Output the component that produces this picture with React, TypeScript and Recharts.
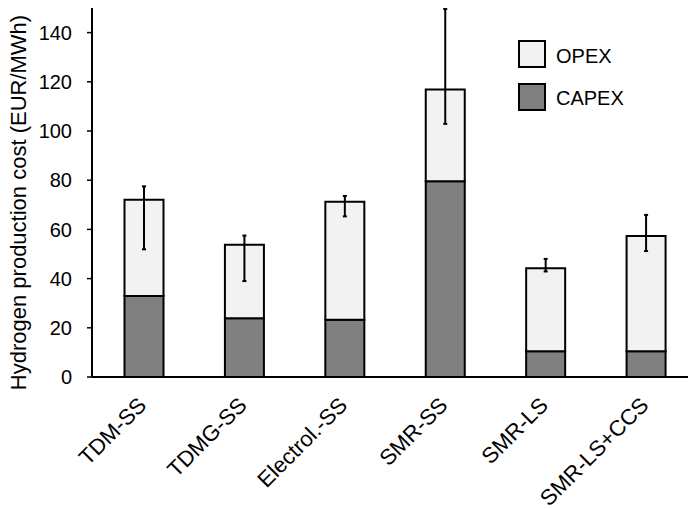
import { BarChart, Bar, XAxis, YAxis, ErrorBar, Legend, Label } from "recharts";

const categories = ["TDM-SS", "TDMG-SS", "Electrol.-SS", "SMR-SS", "SMR-LS", "SMR-LS+CCS"];
const capex = [32.9, 23.9, 23.3, 79.6, 10.5, 10.5];
const opex = [39.2, 29.9, 47.9, 37.3, 33.7, 46.8];
// error range (absolute min / max of total cost)
const errMin = [51.9, 39.0, 65.3, 102.9, 42.9, 51.2];
const errMax = [77.5, 57.5, 73.6, 149.6, 48.0, 65.9];
const yTicks = [0, 20, 40, 60, 80, 100, 120, 140];
const yLabel = "Hydrogen production cost (EUR/MWh)";

const FONT = '"Liberation Sans", Arial, sans-serif';
const OPEX_FILL = "#f2f2f2";
const CAPEX_FILL = "#808080";

const data = categories.map((name, i) => {
  const total = capex[i] + opex[i];
  return {
    name,
    capex: capex[i],
    opex: opex[i],
    err: [total - errMin[i], errMax[i] - total],
  };
});

const legendItems = [
  { name: "OPEX", color: OPEX_FILL },
  { name: "CAPEX", color: CAPEX_FILL },
];

function XTick({ x, y, payload }: any) {
  const tx = x + 4;
  const ty = y + 29.5;
  return (
    <text
      x={tx}
      y={ty}
      transform={`rotate(-45 ${tx} ${ty})`}
      textAnchor="end"
      fontSize={22}
      fontFamily={FONT}
      fill="#000"
    >
      {payload.value}
    </text>
  );
}

function LegendBox() {
  return (
    <div style={{ fontFamily: FONT, fontSize: 20, color: "#000" }}>
      {legendItems.map((it, i) => (
        <div
          key={it.name}
          style={{ display: "flex", alignItems: "center", height: 28, marginBottom: i === 0 ? 14.6 : 0 }}
        >
          <div
            style={{
              width: 28,
              height: 28,
              boxSizing: "border-box",
              border: "2px solid #000",
              background: it.color,
              marginRight: 10,
            }}
          />
          <span style={{ position: "relative", top: 2 }}>{it.name}</span>
        </div>
      ))}
    </div>
  );
}

export default function App() {
  return (
    <div style={{ position: "fixed", left: 0, top: 0, width: 688, height: 509, overflow: "hidden", background: "#fff" }}>
      <BarChart
        width={701}
        height={509}
        data={data}
        margin={{ top: 8, right: 5, left: 0, bottom: 0 }}
      >
        <XAxis
          dataKey="name"
          height={132}
          tickLine={false}
          tickSize={0}
          tickMargin={0}
          interval={0}
          padding={{ left: 1.5, right: 0 }}
          axisLine={{ stroke: "#000", strokeWidth: 2 }}
          tick={<XTick />}
        />
        <YAxis
          width={92}
          domain={[0, 150]}
          ticks={yTicks}
          allowDataOverflow
          tickSize={5}
          tickMargin={15}
          axisLine={{ stroke: "#000", strokeWidth: 2 }}
          tickLine={{ stroke: "#000", strokeWidth: 1.5 }}
          tick={{ fill: "#000", fontSize: 20, fontFamily: FONT }}
        >
          <Label
            content={({ viewBox }: any) => {
              const cx = viewBox.x + 26;
              const cy = viewBox.y + viewBox.height / 2 + 10;
              return (
                <text
                  x={cx}
                  y={cy}
                  transform={`rotate(-90 ${cx} ${cy})`}
                  textAnchor="middle"
                  fontSize={22}
                  fontFamily={FONT}
                  fill="#000"
                >
                  {yLabel}
                </text>
              );
            }}
          />
        </YAxis>
        <Legend
          layout="vertical"
          align="center"
          verticalAlign="middle"
          content={<LegendBox />}
          wrapperStyle={{ position: "absolute", left: 518, top: 40, width: 160 }}
        />
        <Bar
          dataKey="capex"
          name="CAPEX"
          stackId="a"
          fill={CAPEX_FILL}
          stroke="#000"
          strokeWidth={2}
          barSize={39}
          isAnimationActive={false}
        />
        <Bar
          dataKey="opex"
          name="OPEX"
          stackId="a"
          fill={OPEX_FILL}
          stroke="#000"
          strokeWidth={2}
          barSize={39}
          isAnimationActive={false}
        >
          <ErrorBar
            dataKey={(d: any) => (d && d.payload ? d.payload.err : d.err)}
            width={2}
            stroke="#000"
            strokeWidth={2}
            direction="y"
            isAnimationActive={false}
          />
        </Bar>
      </BarChart>
    </div>
  );
}
